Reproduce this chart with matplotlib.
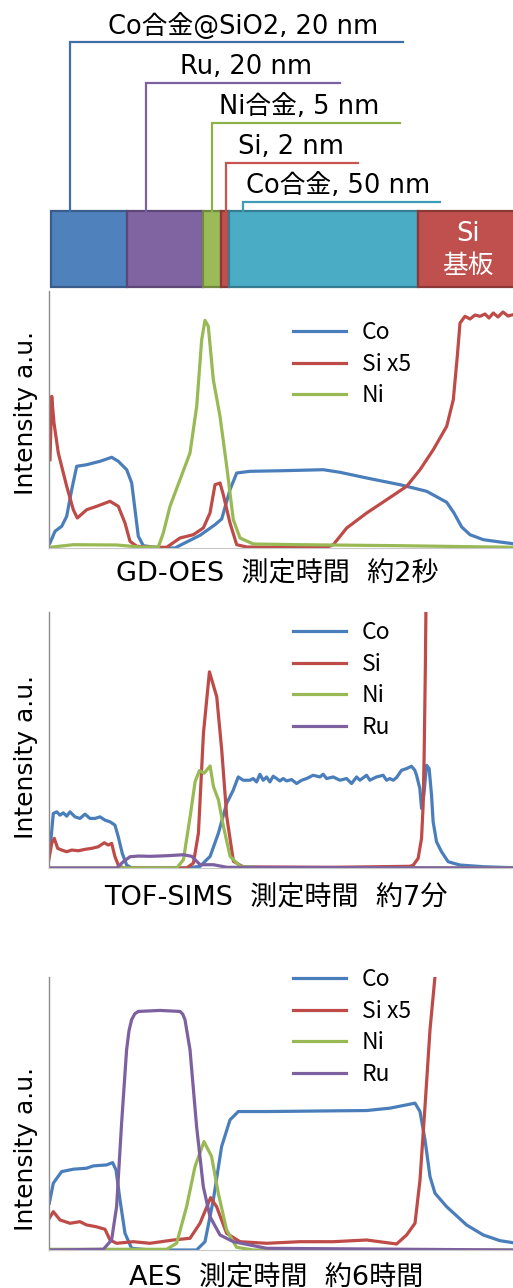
import matplotlib
matplotlib.use("Agg")
import matplotlib.pyplot as plt

plt.rcParams['font.family'] = ['DejaVu Sans', 'Noto Sans CJK JP']

# ---------------- colours ----------------
C_BLUE, C_RED, C_GREEN, C_PURPLE = '#4A7EBB', '#BE4B48', '#98B954', '#7D60A0'

# ---------------- layer schematic ----------------
layer_colors = ['#4F81BD', '#8064A2', '#9BBB59', '#C0504D', '#4BACC6', '#C0504D']
layer_edges = ['#385D8A', '#5C4776', '#71893F', '#8C3836', '#357D91', '#8C3836']
layer_widths = [76, 76, 18, 8, 189, 97]
layer_labels = ['Co合金@SiO2, 20 nm', 'Ru, 20 nm', 'Ni合金, 5 nm', 'Si, 2 nm', 'Co合金, 50 nm']
leader_colors = ['#3F6FA5', '#7A62A0', '#8DB04C', '#C85450', '#3E9BB5']
leader_x = [70, 146, 212, 226, 243]
leader_top = [42, 83, 123, 163, 202]
leader_end = [403, 340, 400, 358, 440]
label_x = [243, 246, 299, 291, 338]
label_y = [27, 67, 107, 147, 186]

# ---------------- GD-OES ----------------
gd_co_x = [1, 6, 12.7, 17.7, 22.7, 27.7, 37.7, 51, 62.7, 69.3, 77.7, 82.7, 86, 89.3, 94.3, 111, 126, 134.3,
           151, 166, 172.7, 181, 187.7, 201, 234.3, 274.3, 291, 317.7, 351, 377.7, 397.7, 405, 412.7, 421,
           434.3, 451, 464]
gd_co = [5, 16.7, 21.7, 31.7, 58.3, 81.7, 83.3, 86.7, 90.7, 86.7, 78.3, 65, 38.3, 11.7, 2.3, 0, 0, 4.3,
         12.7, 23.3, 29, 58.3, 75, 76.7, 77.3, 78.3, 75.7, 70, 63.3, 56.7, 45.7, 35, 21, 13.3, 8.3, 6, 4.3]
gd_si_x = [1, 2.7, 5, 9.3, 17.7, 24.3, 28.3, 37.7, 47.7, 61, 69.3, 76, 81, 87.7, 104.3, 117.7, 131, 144.3,
           154.3, 161, 166, 171, 174.3, 181, 187.7, 197.7, 217.7, 277.7, 284.3, 297.7, 317.7, 337.7, 357.7,
           371, 384.3, 397.7, 404.3, 408.3, 411, 416, 421, 426, 431, 436, 440, 444.3, 449, 454, 459, 464]
gd_si = [88.3, 151.7, 125, 95, 61.7, 38.3, 30, 38.3, 41.7, 46.7, 41.7, 25, 6.7, 1.7, 0.7, 0.7, 10, 13.3,
         20, 35, 63.3, 65, 53.3, 25, 3.3, 1, 0.7, 0.7, 3.3, 20, 35, 48.3, 61.7,
         78.3, 98.3, 121.7, 148.3, 191.7, 225, 231.7, 229, 233, 231.7, 234, 230, 235, 231, 236, 232, 233.3]
gd_ni_x = [1, 24.3, 67.7, 91, 109.3, 114.3, 121, 131, 141, 147.7, 152.7, 156, 159.3, 164.3, 171, 177.7,
           184.3, 191, 204.3, 251, 351, 464]
gd_ni = [0.7, 3.3, 3, 1, 1, 15, 41.7, 68.3, 95, 141.7, 208.3, 227.7, 221.7, 168.3, 131.7, 81.7,
         28.3, 10, 4, 3.3, 2.3, 0.7]

# ---------------- TOF-SIMS ----------------
tof_co_x = [0, 1.5, 4.8, 8.2, 11.5, 14.8, 18.2, 21.5, 26.5, 31.5, 36.5, 41.5, 46.5, 51.5, 56.5, 61.5, 66.5,
            69.8, 73.8, 78.2, 83.2, 118.3, 138.3, 151.7, 161.7, 170, 178.2, 184.8, 189.8, 194.8, 201.5,
            204.8, 208.2, 211.5, 214.8, 218.2, 221.5, 224.8, 228.2, 231.5, 234.8, 238.2, 243.2, 248.2,
            253.2, 258.2, 264.8, 271.5, 274.8, 278.2, 284.8, 291.5, 298.2, 303.2, 308.2, 311.5, 318.2,
            321.5, 324.8, 328.2, 334.8, 338.2, 341.5, 344.8, 348.2, 353.2, 358.2, 363.2, 366.5, 368.2,
            371.5, 373.2, 375.5, 378.2, 380.8, 383.2, 384.8, 388.2, 393.2, 399.8, 411.5, 434.8, 464.5]
tof_co = [12, 18, 54.7, 56.3, 53, 55.3, 52, 56.3, 51.3, 49.7, 54, 49.7, 49.7, 51.3, 48, 46.3, 43,
          31.3, 14.7, 3, 0, 0, 0, 1.7, 11.7, 35, 64.7, 78, 91.3, 88, 88,
          89.7, 86.3, 94, 88, 91.3, 86.3, 92, 89.7, 87.3, 89.7, 87.3, 88.7, 84.7,
          88, 89.7, 93, 91.3, 94, 89.7, 91.3, 88, 89.7, 84.7, 91.3, 88, 93,
          88, 89.7, 91.3, 93, 88, 89.7, 88, 90.7, 98, 99.7, 102, 98, 93,
          79.7, 59.7, 73, 103, 99.7, 73, 46.3, 26.3, 16.3, 6.3, 3, 1.3, 0.3]
tof_si_x = [0, 3.2, 5.8, 9.2, 13.2, 18.2, 23.2, 29.8, 36.5, 43.2, 49.8, 55.8, 59.8, 63.2, 66.5, 69.8, 74.8,
            138.3, 145, 150, 155, 161, 168.3, 173.3, 178.3, 185, 195, 285, 361.7, 365, 369.8, 373.2,
            374.8, 375.8, 377, 378]
tof_si = [6.3, 24.7, 29.7, 19.7, 18, 16.3, 18, 17.3, 18.7, 19.7, 21.3, 25.3, 23, 24.7, 11.3, 3, 0,
          0, 5, 35, 135, 196.7, 171.7, 118.3, 51.7, 6.7, 1, 0.7, 1.7, 3, 9.7, 29.7,
          63, 113, 200, 300]
tof_ni_x = [0, 128.3, 135, 141.7, 146.7, 151, 155.7, 161.7, 165, 170, 175, 181.7, 191.7, 218.3, 464.7]
tof_ni = [0, 0, 8.3, 51.7, 86.7, 97.7, 95, 102.3, 81.7, 68.3, 41.7, 11.7, 1.7, 0, 0]
tof_ru_x = [0, 68.2, 74.8, 81.5, 89.8, 101.7, 118.3, 135, 143.3, 151.7, 165, 178.3, 464.7]
tof_ru = [0, 0, 6.3, 11.3, 12, 11.7, 12.3, 13.3, 11.7, 3.3, 3.3, 0.7, 0]

# ---------------- AES ----------------
aes_co_x = [0, 4, 12.3, 24, 37.3, 44, 57.3, 63.3, 66.7, 70.7, 75.7, 82.3, 100.7, 147.3, 155.7, 164, 172.3,
            180.7, 189, 217.3, 284, 317.3, 340.7, 357.3, 365.7, 370.7, 375.7, 380.7, 385.7, 397.3, 417.3,
            434, 450.7, 463.7]
aes_co = [46.7, 66.7, 78.3, 80.7, 81.7, 84, 85, 87.3, 80, 50, 16.7, 1.7, 0, 0, 8.3, 50, 103.3,
          130, 138.3, 138.3, 139, 139.3, 141.7, 145, 146.7, 138.3, 110, 73.3, 56.7, 43.3, 25,
          15, 9.3, 7.3]
aes_si_x = [0, 4, 10.7, 20.7, 30.7, 37.3, 46.7, 55.7, 60.7, 67.3, 84, 100.7, 124, 140.7, 150.7, 161.3,
            167.3, 177.3, 190.7, 217.3, 250.7, 284, 317.3, 347.3, 357.3, 365.7, 370.7, 375.7, 380.7, 385.7]
aes_si = [31.7, 38.3, 30, 26.7, 28.3, 25, 23.3, 20.7, 10, 6.7, 8.3, 6.7, 10, 11.7, 26.7, 52.3,
          43.3, 16.7, 8.3, 6.7, 8.3, 8.3, 10, 6, 15, 26.7, 70, 143.3, 220, 273.3]
aes_ni_x = [0, 57.3, 117.3, 127.3, 137.3, 145.7, 154.7, 162.3, 169, 177.3, 187.3, 204, 463.7]
aes_ni = [0.7, 0.7, 0.7, 6.7, 43.3, 83.3, 108.3, 93.3, 56.7, 20, 2.7, 0, 0]
aes_ru_x = [0, 54, 62.3, 67.3, 72.3, 77.3, 79.7, 82.3, 85.5, 89, 110.7, 130.7, 133.5, 135.7, 140.7,
            147.3, 154, 160.7, 170.7, 184, 217.3, 463.7]
aes_ru = [0, 0.7, 10, 43.3, 126.7, 200, 219, 230, 236, 238.3, 239.3, 238.3, 235.5, 230, 200,
          123.3, 63.3, 33.3, 15, 8.3, 1.7, 0]

W, H = 513, 1288
fig = plt.figure(figsize=(W / 100, H / 100), dpi=100)

# ---- schematic axes (pixel-like coordinates) ----
sax = fig.add_axes([0, 1 - 290 / H, 1, 290 / H])
sax.set_xlim(0, W)
sax.set_ylim(290, 0)
sax.axis('off')
lefts = [51]
for w in layer_widths[:-1]:
    lefts.append(lefts[-1] + w)
sax.barh(y=249, width=layer_widths, left=lefts, height=76, color=layer_colors,
         edgecolor=layer_edges, linewidth=1.6, align='center')
for i, lab in enumerate(layer_labels):
    sax.plot([leader_x[i], leader_x[i], leader_end[i]], [211, leader_top[i], leader_top[i]],
             color=leader_colors[i], lw=1.6, solid_joinstyle='miter')
    sax.text(label_x[i], label_y[i], lab, ha='center', va='center', fontsize=18.5, color='black')
sax.text(lefts[-1] + 50, 234, 'Si', ha='center', va='center', fontsize=18.5, color='white')
sax.text(lefts[-1] + 50, 266, '基板', ha='center', va='center', fontsize=18.5, color='white')


def make_panel(top, bottom, left, ytop, xmax, series, xlabel, xl_xy, yl_y, leg_top):
    ax = fig.add_axes([left / W, 1 - bottom / H, (W - left) / W, (bottom - top) / H])
    for xs, ys, col, lab in series:
        ax.plot(xs, ys, color=col, lw=2.3, label=lab, solid_joinstyle='round')
    ax.set_xlim(0, xmax)
    ax.set_ylim(0, ytop)
    ax.set_xticks([])
    ax.set_yticks([])
    for s in ['top', 'right']:
        ax.spines[s].set_visible(False)
    ax.spines['left'].set_color('#8C8C8C')
    ax.spines['left'].set_linewidth(1.0)
    ax.spines['bottom'].set_color('#C8C8C8')
    ax.spines['bottom'].set_linewidth(0.8)
    ax.set_ylabel('Intensity a.u.', fontsize=18)
    ax.yaxis.set_label_coords((38 - left) / (W - left), (bottom - yl_y) / (bottom - top))
    ax.set_xlabel(xlabel, fontsize=19.5)
    ax.xaxis.label.set_va('center')
    ax.xaxis.set_label_coords((xl_xy[0] - left) / (W - left), (bottom - xl_xy[1]) / (bottom - top))
    ax.legend(loc='upper left', bbox_to_anchor=(293 / W, 1 - leg_top / H), bbox_transform=fig.transFigure,
              frameon=False, prop={'family': 'Noto Sans CJK JP', 'size': 16.5},
              handlelength=2.3, handletextpad=0.7, labelspacing=0.38,
              borderpad=0, borderaxespad=0)
    return ax


make_panel(291, 548, 49, 257, 464,
           [(gd_co_x, gd_co, C_BLUE, 'Co'), (gd_si_x, gd_si, C_RED, 'Si x5'), (gd_ni_x, gd_ni, C_GREEN, 'Ni')],
           'GD-OES  測定時間  約2秒', (277, 573), 413, 321)
make_panel(612, 868, 48.5, 256.7, 464.7,
           [(tof_co_x, tof_co, C_BLUE, 'Co'), (tof_si_x, tof_si, C_RED, 'Si'), (tof_ni_x, tof_ni, C_GREEN, 'Ni'),
            (tof_ru_x, tof_ru, C_PURPLE, 'Ru')],
           'TOF-SIMS  測定時間  約7分', (276, 897), 757, 621)
make_panel(977, 1250, 49.3, 272.7, 463.7,
           [(aes_co_x, aes_co, C_BLUE, 'Co'), (aes_si_x, aes_si, C_RED, 'Si x5'), (aes_ni_x, aes_ni, C_GREEN, 'Ni'),
            (aes_ru_x, aes_ru, C_PURPLE, 'Ru')],
           'AES  測定時間  約6時間', (276, 1277), 1149, 968)

fig.savefig('out.png', dpi=100)
